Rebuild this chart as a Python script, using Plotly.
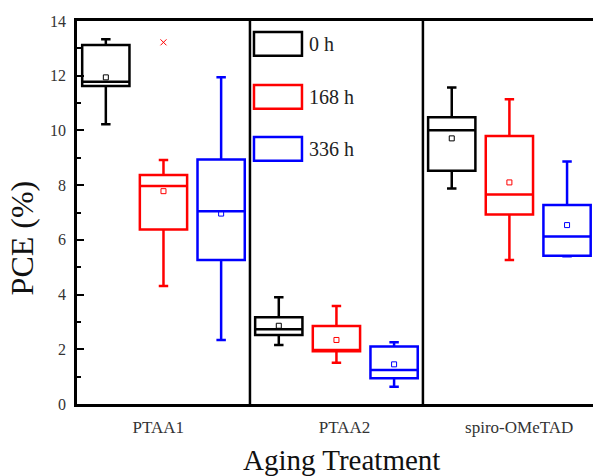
import plotly.graph_objects as go

groups = ["PTAA1", "PTAA2", "spiro-OMeTAD"]
series = ["0 h", "168 h", "336 h"]
colors = ["#000000", "#ff0000", "#0000ff"]

upper = [[13.33, 3.90, 11.57], [8.92, 3.58, 11.14], [11.94, 2.26, 8.86]]
q3 = [[13.12, 3.17, 10.48], [8.37, 2.85, 9.80], [8.94, 2.10, 7.27]]
median = [[11.78, 2.73, 10.01], [7.97, 1.97, 7.66], [7.05, 1.24, 6.12]]
q1 = [[11.62, 2.52, 8.53], [6.38, 1.93, 6.93], [5.26, 0.94, 5.42]]
lower = [[10.23, 2.16, 7.88], [4.31, 1.51, 5.26], [2.34, 0.63, 5.40]]
mean = [[11.94, 2.86, 9.71], [7.78, 2.34, 8.10], [6.96, 1.45, 6.54]]
# outliers: (series index, group index, value)
outliers = [(1, 0, 13.22)]

label_pos = [0.91, 4.14, 7.17]
yticks = [0, 2, 4, 6, 8, 10, 12, 14]

FONT = "Liberation Serif"
fig = go.Figure()
ns = len(series)
for s, name in enumerate(series):
    xs = [g * ns + s for g in range(len(groups))]
    fig.add_trace(go.Box(
        x=xs, q1=q1[s], median=median[s], q3=q3[s],
        lowerfence=lower[s], upperfence=upper[s],
        name=name, width=0.82, whiskerwidth=0.2,
        line=dict(color=colors[s], width=2.5),
        fillcolor="rgba(0,0,0,0)", boxpoints=False, showlegend=False,
    ))
    fig.add_trace(go.Scatter(
        x=xs, y=mean[s], mode="markers", showlegend=False,
        marker=dict(symbol="square-open", size=5, color=colors[s], line=dict(width=1)),
    ))
for s, g, v in outliers:
    fig.add_trace(go.Scatter(
        x=[g * ns + s], y=[v], mode="markers", showlegend=False,
        marker=dict(symbol="x-thin", size=6, color=colors[s], line=dict(width=1, color=colors[s])),
    ))

shapes = []
for g in range(1, len(groups)):
    shapes.append(dict(type="line", xref="x", yref="paper", x0=g * ns - 0.5, x1=g * ns - 0.5,
                       y0=0, y1=1, line=dict(color="black", width=2.5)))

annotations = []
leg_top = [0.971, 0.833, 0.697]
for s, name in enumerate(series):
    shapes.append(dict(type="rect", xref="paper", yref="paper", x0=0.343, x1=0.436,
                       y0=leg_top[s] - 0.062, y1=leg_top[s],
                       line=dict(color=colors[s], width=2.5)))
    annotations.append(dict(text=name, xref="paper", yref="paper", x=0.446, y=leg_top[s] - 0.031,
                            xanchor="left", yanchor="middle", showarrow=False,
                            font=dict(family=FONT, size=20, color="#222")))

annotations.append(dict(text="PCE (%)", xref="paper", yref="paper", x=-0.1066, y=0.435,
                        textangle=-90, xanchor="center", yanchor="middle", showarrow=False,
                        font=dict(family=FONT, size=32, color="#111")))
annotations.append(dict(text="Aging Treatment", xref="paper", yref="paper", x=0.513, y=-0.1,
                        xanchor="center", yanchor="top", showarrow=False,
                        font=dict(family=FONT, size=29, color="#111")))

fig.update_layout(
    width=593, height=476, margin=dict(l=77, r=0, t=21, b=72),
    paper_bgcolor="white", plot_bgcolor="white",
    boxmode="overlay", shapes=shapes, annotations=annotations,
    xaxis=dict(range=[-0.5, 8.45], showline=True, linewidth=2.5, linecolor="black",
               mirror=True, showgrid=False, zeroline=False, ticks="",
               tickvals=label_pos, ticktext=groups, ticklabelstandoff=6,
               tickfont=dict(family=FONT, size=17, color="#333")),
    yaxis=dict(range=[0, 14], showline=True, linewidth=2.5, linecolor="black",
               showgrid=False, zeroline=False, ticks="inside", ticklen=7, tickwidth=2,
               tickcolor="black", tickvals=yticks, ticklabelstandoff=5,
               minor=dict(dtick=1, ticks="inside", ticklen=4, tickwidth=2, tickcolor="black"),
               tickfont=dict(family=FONT, size=16, color="#333")),
)
fig.write_html("out.html")
